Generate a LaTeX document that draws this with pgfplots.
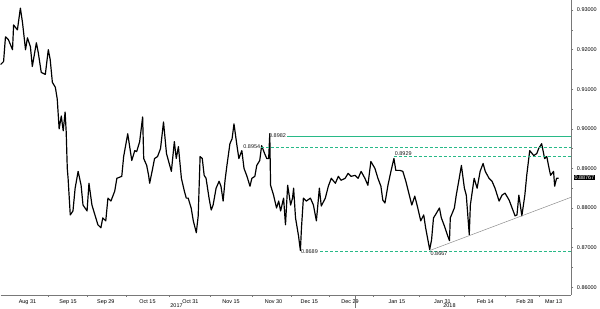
\documentclass[border=0pt]{standalone}
\usepackage{fontspec}
\setmainfont{Liberation Sans}
\usepackage{pgfplots}
\pgfplotsset{compat=1.18}
\definecolor{lvl}{RGB}{40,185,135}
\definecolor{axgray}{RGB}{120,120,120}
\newcommand{\tf}{\fontsize{5.5}{6}\selectfont}
\begin{document}
\begin{tikzpicture}
\begin{axis}[
  scale only axis, width=575pt, height=297pt,
  xmin=-9.9, xmax=200.7, ymin=0.858, ymax=0.9325,
  axis x line*=bottom, axis y line*=right,
  axis line style={-, axgray},
  clip=false,
  scaled y ticks=false,
  ytick={0.86,0.87,0.88,0.89,0.90,0.91,0.92,0.93},
  minor ytick={0.865,0.875,0.885,0.895,0.905,0.915,0.925},
  yticklabel pos=right,
  yticklabel style={font=\tf, /pgf/number format/.cd, fixed, fixed zerofill, precision=5, assume math mode=true},
  xtick={0,15,28.9,44.3,60.1,75.1,90.8,104,119,136.3,153.1,168.9,183.5,194.1},
  xticklabels={Aug 31,Sep 15,Sep 29,Oct 15,Oct 31,Nov 15,Nov 30,Dec 15,Dec 29,Jan 15,Jan 31,Feb 14,Feb 28,Mar 13},
  minor xtick={7.5,22,36.6,52.2,67.6,83,97.4,111.5,127.7,144.7,161,176.2,188.8},
  xticklabel style={font=\tf, yshift=1.2pt},
  tick align=outside,
  tick style={axgray, line width=0.4pt},
  major tick length=2pt, minor tick length=1.5pt,
  major x tick style={draw=none},
]
% price series
\addplot[black, line width=1.2pt, line join=round] coordinates {
(-9.9,0.91625)(-8.8,0.9170)(-8.1,0.92325)(-7.0,0.9225)(-5.5,0.9200)(-5.1,0.92625)(-3.7,0.9250)(-2.6,0.9305)(-1.8,0.92675)(-0.7,0.9200)
(0.0,0.9230)(1.1,0.92075)(1.8,0.91575)(3.3,0.92175)(4.0,0.91925)(5.1,0.91425)(6.6,0.91375)(7.7,0.9200)(8.4,0.9175)(9.2,0.91175)
(10.3,0.9105)(11.0,0.9075)(11.7,0.9000)(12.5,0.90325)(13.2,0.8995)(13.9,0.90425)(14.3,0.89925)(14.7,0.8900)(15.0,0.8875)(15.8,0.87825)
(16.8,0.87925)(17.6,0.8850)(18.7,0.88925)(19.8,0.88575)(20.5,0.88075)(22.0,0.87925)(22.7,0.88625)(23.8,0.88075)(24.9,0.87825)(26.0,0.87575)
(27.1,0.8750)(27.8,0.8775)(28.9,0.87675)(29.7,0.8825)(30.8,0.88175)(32.2,0.88425)(33.0,0.8875)(34.8,0.8880)(35.5,0.8930)(37.0,0.89875)
(38.5,0.8920)(39.6,0.8945)(40.3,0.89425)(41.4,0.89675)(42.5,0.9030)(42.9,0.8925)(44.0,0.89075)(44.7,0.88825)(45.1,0.88625)(46.2,0.8900)
(46.9,0.8925)(48.0,0.8930)(49.1,0.8950)(50.2,0.90175)(51.3,0.89375)(53.1,0.88925)(54.2,0.89675)(54.9,0.8925)(55.7,0.8955)(56.8,0.8875)
(57.9,0.88425)(58.6,0.8825)(59.3,0.8825)(60.4,0.8800)(61.2,0.87675)(62.3,0.87375)(63.0,0.8780)(63.7,0.8930)(64.5,0.8925)(65.2,0.88825)
(65.9,0.8875)(67.0,0.8825)(67.8,0.8795)(68.5,0.88075)(69.6,0.8850)(70.7,0.88675)(71.4,0.8855)(72.2,0.88175)(72.9,0.8870)(73.6,0.89075)
(74.7,0.89625)(75.5,0.8975)(76.2,0.90125)(77.3,0.89575)(78.0,0.8925)(79.1,0.8945)(79.9,0.8900)(81.0,0.8880)(82.1,0.8855)(82.8,0.8875)
(83.9,0.8880)(84.6,0.89075)(85.7,0.8920)(86.4,0.89575)(87.5,0.89375)(88.3,0.8925)(89.0,0.8925)(89.4,0.89875)(89.7,0.88575)(90.8,0.88325)
(91.9,0.8800)(92.7,0.88175)(93.4,0.87925)(94.5,0.8825)(95.2,0.87575)(96.0,0.88575)(97.1,0.88075)(97.8,0.8825)(98.2,0.8850)(98.9,0.8775)
(100.0,0.8730)(100.7,0.86925)(101.1,0.8750)(101.8,0.8825)(102.9,0.88175)(104.4,0.8825)(105.5,0.88075)(106.6,0.87675)(107.7,0.8850)(108.4,0.8805)
(109.9,0.8825)(111.0,0.8855)(112.1,0.8875)(113.6,0.88625)(114.7,0.8880)(115.7,0.8870)(117.2,0.8875)(118.3,0.88875)(119.4,0.8880)(120.9,0.88825)
(122.0,0.8875)(123.1,0.88925)(124.5,0.8875)(125.6,0.88575)(126.7,0.89175)(128.2,0.8900)(129.3,0.8875)(130.4,0.8855)(131.1,0.8820)(131.9,0.88125)
(133.0,0.88575)(134.1,0.88925)(135.2,0.8925)(135.9,0.8895)(137.4,0.8895)(138.5,0.88925)(139.6,0.88675)(140.7,0.88375)(141.8,0.88075)(142.9,0.8830)
(144.0,0.8800)(145.1,0.87675)(146.2,0.87825)(146.9,0.8750)(148.4,0.8695)(149.1,0.8720)(149.8,0.8775)(150.5,0.87825)(152.0,0.8800)(152.7,0.8775)
(153.8,0.8755)(154.9,0.87325)(155.7,0.87175)(156.0,0.8775)(157.5,0.8800)(158.2,0.88325)(159.3,0.8875)(160.1,0.89075)(161.2,0.8850)(161.9,0.88325)
(163.0,0.87325)(163.4,0.88075)(164.8,0.8875)(165.9,0.8850)(167.0,0.88925)(168.1,0.89125)(168.9,0.88925)(170.3,0.8875)(171.4,0.88675)(172.5,0.8850)
(174.0,0.88175)(175.1,0.88325)(176.2,0.88375)(177.7,0.8820)(178.8,0.8800)(179.9,0.8780)(180.6,0.87825)(181.3,0.88325)(182.4,0.8780)(183.5,0.88325)
(184.2,0.88825)(185.3,0.8945)(186.8,0.89325)(187.9,0.89375)(188.6,0.8950)(189.7,0.89625)(190.8,0.8925)(191.6,0.8930)(192.3,0.8905)(193.0,0.88825)
(194.1,0.88925)(194.5,0.8855)(195.2,0.8875)(196.0,0.8875)
};
% levels
\addplot[lvl, line width=0.5pt] coordinates {(95.6,0.8982)(200.7,0.8982)};
\addplot[lvl, line width=0.9pt, dash pattern=on 3pt off 2pt] coordinates {(86.1,0.8954)(200.7,0.8954)};
\addplot[lvl, line width=0.9pt, dash pattern=on 3pt off 2pt] coordinates {(135.2,0.8929)(200.7,0.8929)};
\addplot[lvl, line width=0.9pt, dash pattern=on 3pt off 2pt] coordinates {(108,0.8689)(200.7,0.8689)};
% trend line
\addplot[black!45, line width=0.5pt] coordinates {(148.4,0.86925)(200.7,0.88275)};
% level labels
\node[font=\tf, text=black!90, anchor=east, inner sep=0.5pt] at (axis cs:95.6,0.8982) {0.8982};
\node[font=\tf, text=black!90, anchor=east, inner sep=0.5pt] at (axis cs:86.1,0.8954) {0.8954};
\node[font=\tf, text=black!90, anchor=south west, inner sep=0.8pt] at (axis cs:135.2,0.8929) {0.8929};
\node[font=\tf, text=black!90, anchor=west, inner sep=0.5pt] at (axis cs:100.7,0.8689) {0.8689};
\node[font=\tf, text=black!90, anchor=north west, inner sep=0.8pt] at (axis cs:148.4,0.8692) {0.8667};
% current price box
\node[font=\tf, fill=black, text=white, anchor=west, inner sep=0.9pt, xshift=2pt] at (axis cs:200.7,0.88767) {0.88767};
% year labels and separator
\node[font=\tf, inner sep=0pt, anchor=north] at (axis cs:55,0.858) [yshift=-8.3pt] {2017};
\node[font=\tf, inner sep=0pt, anchor=north] at (axis cs:155.7,0.858) [yshift=-8.3pt] {2018};
\draw[axgray, line width=0.4pt] (axis cs:120.9,0.858) -- ([yshift=-13pt]axis cs:120.9,0.858);
\end{axis}
\end{tikzpicture}
\end{document}
